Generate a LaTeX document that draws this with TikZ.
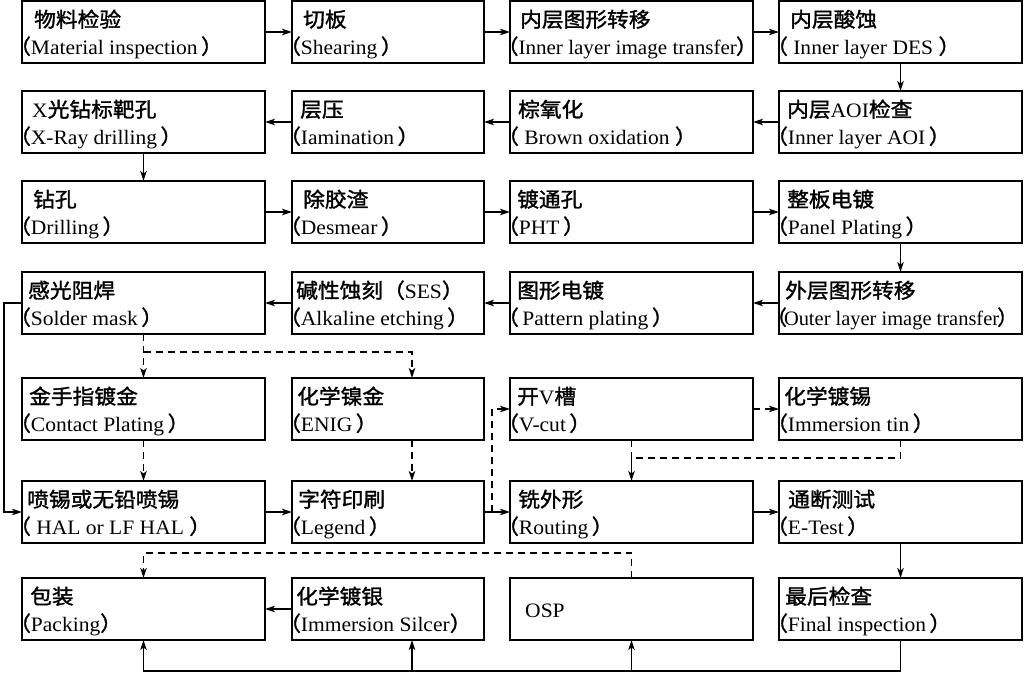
\documentclass[tikz,border=0pt]{standalone}
\usepackage{graphicx}
\usepackage{fontspec}
\setmainfont{Liberation Serif}[FakeStretch=1.05]
\newfontfamily\cjk{Noto Sans CJK SC}[FakeStretch=1.06,FakeBold=1.5]
\usetikzlibrary{arrows.meta,calc}
\newcommand\Lpar{{\cjk （}}
\newcommand\Rpar{{\cjk ）}}
\newcommand\pb[8]{%
  \pgfmathsetmacro\bw{#3-#2}%
  \node[boxst, minimum width=\bw pt, minimum height=62pt] (#1) at (#2,#4) {};
  \node[cn] (#1c) at ($(#1.north west)+(#5,26)$) {#6};
  \node[en] (#1e) at ($(#1.north west)+(#8,53)$) {#7};
}
\begin{document}
\begin{tikzpicture}[x=1pt,y=-1pt,
  every node/.style={font=\fontsize{20.5pt}{24pt}\selectfont},
  boxst/.style={draw, line width=1.6pt, inner sep=0pt, outer sep=0pt, anchor=north west},
  cn/.style={anchor=base west, inner sep=0pt, font=\fontsize{20.5pt}{24pt}\selectfont\cjk},
  en/.style={anchor=base west, inner sep=0pt},
  arr/.style={line width=1.2pt, -{Stealth[length=10pt,width=6.5pt,inset=2.5pt]}},
  ln/.style={line width=1.2pt},
  dsh/.style={dash pattern=on 7pt off 5pt}]
\useasboundingbox (0,0) rectangle (1024,673);
% row 1
\pb{a1}{22}{265}{1}{12}{物料检验}{\Lpar Material inspection\,\Rpar}{-13}
\pb{a2}{292}{484}{1}{11}{切板}{\Lpar Shearing\,\Rpar}{-13}
\pb{a3}{510}{753}{1}{10}{内层图形转移}{\scalebox{0.98}[1]{\Lpar Inner layer image transfer\kern-1pt\Rpar}}{-13}
\pb{a4}{779}{1022}{1}{11}{内层酸蚀}{\Lpar\ Inner layer DES\ \Rpar}{-13}
% row 2
\pb{b1}{22}{265}{91}{10}{{\rmfamily X}光钻标靶孔}{\Lpar X-Ray drilling\,\Rpar}{-13}
\pb{b2}{292}{484}{91}{8}{层压}{\Lpar Iamination\,\Rpar}{-13}
\pb{b3}{510}{753}{91}{8}{棕氧化}{\Lpar\ Brown oxidation\ \Rpar}{-13}
\pb{b4}{779}{1022}{91}{8}{内层{\rmfamily AOI}检查}{\Lpar Inner layer AOI\,\Rpar}{-13}
% row 3
\pb{c1}{22}{265}{181}{11}{钻孔}{\Lpar Drilling\,\Rpar}{-13}
\pb{c2}{292}{484}{181}{11}{除胶渣}{\Lpar Desmear\,\Rpar}{-13}
\pb{c3}{510}{753}{181}{7}{镀通孔}{\Lpar PHT\,\Rpar}{-13}
\pb{c4}{779}{1022}{181}{8}{整板电镀}{\Lpar Panel Plating\,\Rpar}{-13}
% row 4
\pb{d1}{22}{265}{272}{6}{感光阻焊}{\Lpar Solder mask\,\Rpar}{-13}
\pb{d2}{292}{484}{272}{4}{碱性蚀刻（{\rmfamily SES}）}{\Lpar Alkaline etching\,\Rpar}{-13}
\pb{d3}{510}{753}{272}{7}{图形电镀}{\Lpar\,Pattern plating\,\Rpar}{-13}
\pb{d4}{779}{1022}{272}{6}{外层图形转移}{\scalebox{0.95}[1]{\Lpar\kern-3pt Outer layer image transfer\kern-2pt\Rpar}}{-13}
% row 5
\pb{e1}{22}{265}{378}{7}{金手指镀金}{\Lpar Contact Plating\,\Rpar}{-13}
\pb{e2}{292}{484}{378}{5}{化学镍金}{\Lpar ENIG\,\Rpar}{-13}
\pb{e3}{510}{753}{378}{7}{开{\rmfamily V}槽}{\Lpar V-cut\,\Rpar}{-13}
\pb{e4}{779}{1022}{378}{5}{化学镀锡}{\Lpar Immersion tin\,\Rpar}{-13}
% row 6
\pb{f1}{22}{265}{481}{5}{喷锡或无铅喷锡}{\Lpar\ HAL or LF HAL\ \Rpar}{-13}
\pb{f2}{292}{484}{481}{6}{字符印刷}{\Lpar Legend\,\Rpar}{-13}
\pb{f3}{510}{753}{481}{8}{铣外形}{\Lpar Routing\,\Rpar}{-13}
\pb{f4}{779}{1022}{481}{9}{通断测试}{\Lpar E-Test\,\Rpar}{-13}
% row 7
\pb{g1}{22}{265}{578}{8}{包装}{\Lpar Packing\Rpar}{-13}
\pb{g2}{292}{484}{578}{4}{化学镀银}{\Lpar Immersion Silcer\Rpar}{-13}
\node[boxst, minimum width=243pt, minimum height=62pt] (g3) at (510,578) {};
\node[en] (g3t) at ($(g3.north west)+(15,39)$) {OSP};
\pb{g4}{779}{1022}{578}{6}{最后检查}{\Lpar Final inspection\,\Rpar}{-13}
% solid connectors
\draw[arr] (a1.east) -- (a2.west);
\draw[arr] (a2.east) -- (a3.west);
\draw[arr] (a3.east) -- (a4.west);
\draw[arr] (a4.south) -- (b4.north);
\draw[arr] (b4.west) -- (b3.east);
\draw[arr] (b3.west) -- (b2.east);
\draw[arr] (b2.west) -- (b1.east);
\draw[arr] (b1.south) -- (c1.north);
\draw[arr] (c1.east) -- (c2.west);
\draw[arr] (c2.east) -- (c3.west);
\draw[arr] (c3.east) -- (c4.west);
\draw[arr] (c4.south) -- (d4.north);
\draw[arr] (d4.west) -- (d3.east);
\draw[arr] (d3.west) -- (d2.east);
\draw[arr] (d2.west) -- (d1.east);
\draw[arr] (d1.west) -- ++(-18,0) |- (f1.west);
\draw[arr] (f1.east) -- (f2.west);
\draw[arr] (f2.east) -- (f3.west);
\draw[arr] (f3.east) -- (f4.west);
\draw[arr] (f4.south) -- (g4.north);
\draw[arr] (g2.west) -- (g1.east);
\draw[arr] (g4.south) -- ++(0,31) -| (g1.south);
\draw[arr] ($(g2.south west)+(120,31)$) -- ([xshift=120pt]g2.south west);
\draw[arr] ($(g3.south)+(0,31)$) -- (g3.south);
% dashed connectors
\draw[arr,dsh] (d1.south) -- (e1.north);
\draw[arr,dsh] ($(d1.south)+(0,18)$) -| ([xshift=120pt]e2.north west);
\draw[arr,dsh] (e1.south) -- (f1.north);
\draw[arr,dsh] ([xshift=120pt]e2.south west) -- ([xshift=120pt]f2.north west);
\draw[arr,dsh] ([xshift=8pt]f2.east) |- (e3.west);
\draw[arr,dsh] (e3.east) -- (e4.west);
\draw[arr,dsh] (e3.south) -- (f3.north);
\draw[ln,dsh] (e4.south) -- ++(0,18) -| (e3.south |- f3.north);
\draw[arr,dsh] (g3.north) -- ++(0,-25) -| (g1.north);
\end{tikzpicture}
\end{document}
